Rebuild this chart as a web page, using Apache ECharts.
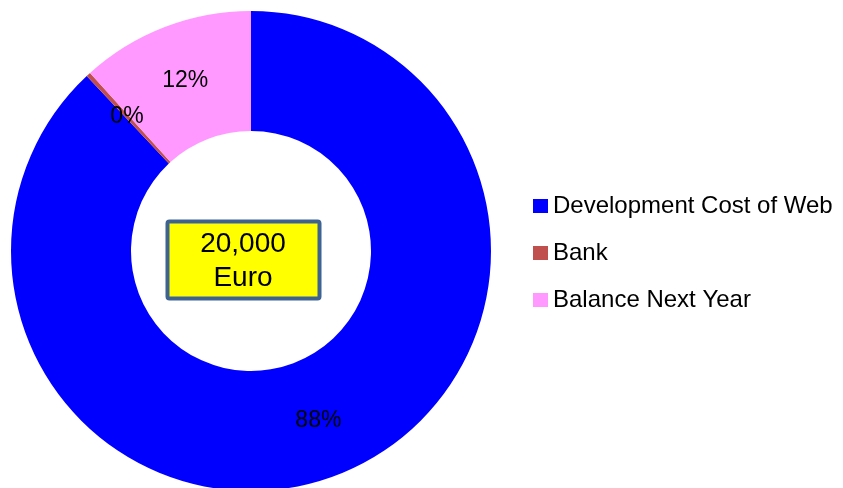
<!DOCTYPE html>
<html>
<head>
<meta charset="utf-8">
<script src="https://cdn.jsdelivr.net/npm/echarts@6/dist/echarts.min.js"></script>
<style>
  html, body { margin: 0; padding: 0; background: #fff; }
  #chart { width: 843px; height: 488px; }
</style>
</head>
<body>
<div id="chart"></div>
<script>
// data
const categories = ["Development Cost of Web", "Bank", "Balance Next Year"];
const amounts = [17600, 60, 2340];
const colors = ["#0000FF", "#C0504D", "#FF99FF"];
const centerLines = ["20,000", "Euro"];

const chart = echarts.init(document.getElementById("chart"));

const option = {
  backgroundColor: "#ffffff",
  animation: false,
  legend: {
    orient: "vertical",
    left: 528,
    top: 189,
    itemWidth: 15,
    itemHeight: 14,
    itemGap: 23,
    icon: "rect",
    data: categories,
    textStyle: {
      fontFamily: "Liberation Sans",
      fontSize: 24,
      color: "#000",
    },
  },
  series: [
    {
      type: "pie",
      center: [251, 251],
      radius: [120, 240],
      startAngle: 90,
      clockwise: true,
      avoidLabelOverlap: false,
      label: {
        show: true,
        position: "inside",
        formatter: (p) => Math.round(p.percent) + "%",
        fontFamily: "Liberation Sans",
        fontSize: 23,
        color: "#000",
      },
      labelLine: { show: false },
      itemStyle: { borderWidth: 0 },
      emphasis: { disabled: true },
      data: categories.map((name, i) => ({
        name: name,
        value: amounts[i],
        itemStyle: { color: colors[i] },
      })),
    },
  ],
  graphic: [
    {
      type: "rect",
      shape: { x: 167.5, y: 221.5, width: 152, height: 77, r: 2 },
      style: { fill: "#FFFF00", stroke: "#3F6390", lineWidth: 4 },
    },
    {
      type: "text",
      x: 243,
      y: 244,
      style: {
        text: centerLines[0],
        font: "28px 'Liberation Sans'",
        fill: "#000",
        align: "center",
        verticalAlign: "middle",
      },
    },
    {
      type: "text",
      x: 243,
      y: 278,
      style: {
        text: centerLines[1],
        font: "28px 'Liberation Sans'",
        fill: "#000",
        align: "center",
        verticalAlign: "middle",
      },
    },
  ],
};

chart.setOption(option);
</script>
</body>
</html>
